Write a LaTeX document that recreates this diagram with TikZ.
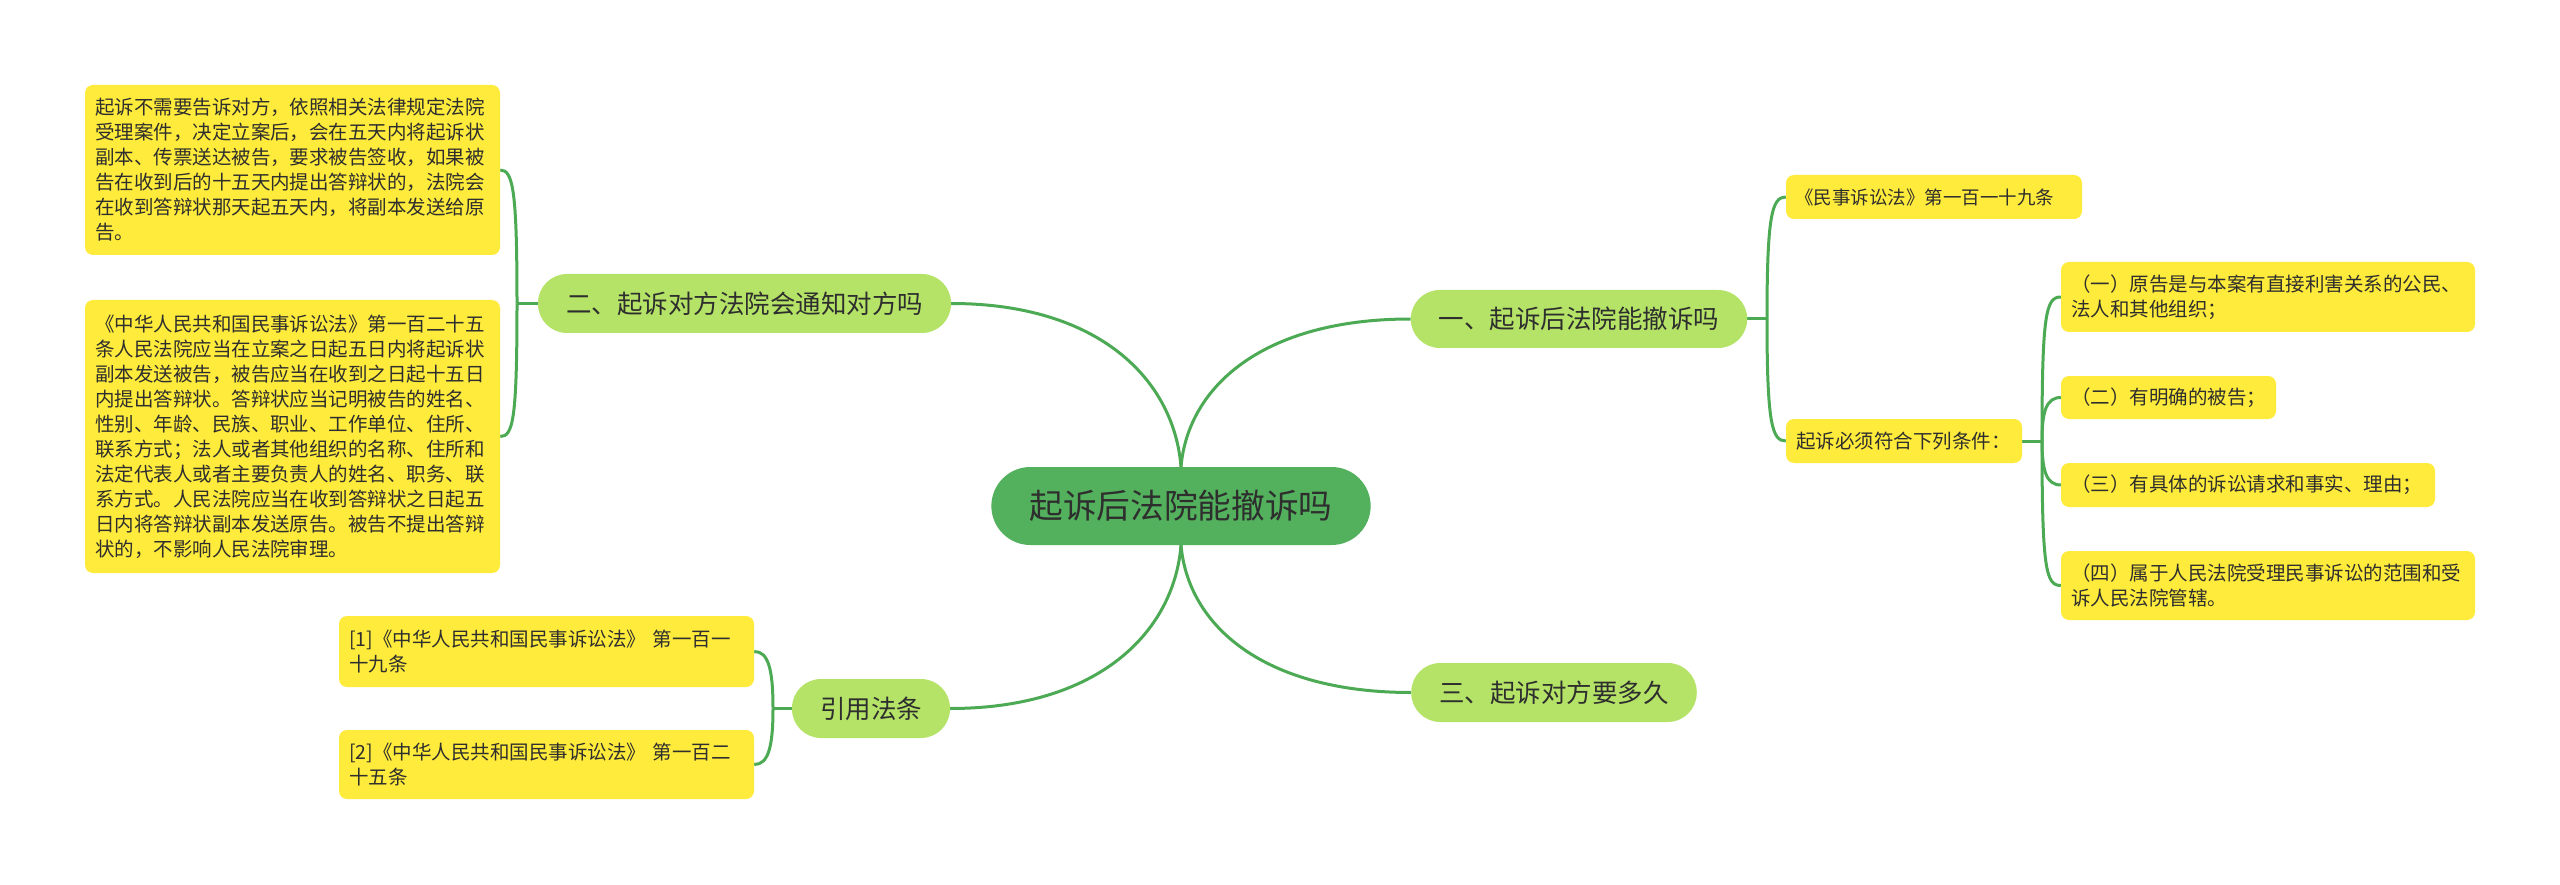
\documentclass[tikz,border=0pt]{standalone}
\usepackage{fontspec}
\setmainfont{Noto Sans CJK SC}
\usetikzlibrary{backgrounds}
\definecolor{yel}{HTML}{FFEB3B}
\definecolor{lgreen}{HTML}{B4E367}
\definecolor{dgreen}{HTML}{53B05C}
\definecolor{lineg}{HTML}{4CAA54}
\definecolor{txt}{HTML}{2E2E2E}
\begin{document}
\begin{tikzpicture}[x=1pt,y=-1pt,
  conn/.style={draw=lineg, line width=3pt},
  leaf/.style={fill=yel, rounded corners=8pt, text=txt, font=\fontsize{19.5}{25}\selectfont, align=left, inner xsep=10pt, inner ysep=0pt},
  branch/.style={fill=lgreen, rounded corners=29pt, text=txt, font=\fontsize{25.5}{30}\selectfont, inner xsep=28pt, inner ysep=0pt, minimum height=59pt},
  rootbox/.style={fill=dgreen, rounded corners=39pt, text=txt, font=\fontsize{33.7}{38}\selectfont, inner xsep=38pt, inner ysep=0pt, minimum height=78pt}]
\useasboundingbox (0,0) rectangle (2560,885);

% root and branches
\node[rootbox] (root) at (1181,506) {起诉后法院能撤诉吗};
\node[branch, minimum height=58pt] (b1) at (1579,319) {一、起诉后法院能撤诉吗};
\node[branch] (b2) at (744.5,303.5) {二、起诉对方法院会通知对方吗};
\node[branch] (b3) at (1554,692.5) {三、起诉对方要多久};
\node[branch] (b4) at (871,708.5) {引用法条};

% left leaves
\node[leaf, text width=395pt, minimum height=170pt] (t1) at (292.5,170) {起诉不需要告诉对方，依照相关法律规定法院\\受理案件，决定立案后，会在五天内将起诉状\\副本、传票送达被告，要求被告签收，如果被\\告在收到后的十五天内提出答辩状的，法院会\\在收到答辩状那天起五天内，将副本发送给原\\告。};
\node[leaf, text width=395pt, minimum height=273pt] (t2) at (292.5,436.5) {《中华人民共和国民事诉讼法》第一百二十五\\条人民法院应当在立案之日起五日内将起诉状\\副本发送被告，被告应当在收到之日起十五日\\内提出答辩状。答辩状应当记明被告的姓名、\\性别、年龄、民族、职业、工作单位、住所、\\联系方式；法人或者其他组织的名称、住所和\\法定代表人或者主要负责人的姓名、职务、联\\系方式。人民法院应当在收到答辩状之日起五\\日内将答辩状副本发送原告。被告不提出答辩\\状的，不影响人民法院审理。};
\node[leaf, text width=395pt, minimum height=71pt] (r1) at (546.5,651.5) {[1]《中华人民共和国民事诉讼法》 第一百一\\十九条};
\node[leaf, text width=395pt, minimum height=69pt] (r2) at (546.5,764.5) {[2]《中华人民共和国民事诉讼法》 第一百二\\十五条};

% right leaves
\node[leaf, text width=278pt, inner xsep=9pt, minimum height=44pt, font=\fontsize{18.5}{25}\selectfont] (law) at (1934,197) {《民事诉讼法》第一百一十九条};
\node[leaf, text width=216pt, minimum height=44pt] (cond) at (1904,441) {起诉必须符合下列条件：};
\node[leaf, text width=394pt, minimum height=70pt] (c1) at (2268,297) {（一）原告是与本案有直接利害关系的公民、\\法人和其他组织；};
\node[leaf, text width=195pt, minimum height=43pt] (c2) at (2168.5,397.5) {（二）有明确的被告；};
\node[leaf, text width=354pt, minimum height=44pt] (c3) at (2248,485) {（三）有具体的诉讼请求和事实、理由；};
\node[leaf, text width=394pt, minimum height=69pt] (c4) at (2268,585.5) {（四）属于人民法院受理民事诉讼的范围和受\\诉人民法院管辖。};

\coordinate (j1) at (1767,319);
\coordinate (j2) at (517,303.5);
\coordinate (j3) at (2042,441);
\coordinate (j4) at (773,708.5);

\begin{pgfonlayer}{background}
\fill[white] (0,0) rectangle (2560,885);
% main curves
\draw[conn] (root.north) .. controls +(-7,-87) and +(148,0) .. (b2.east);
\draw[conn] (root.north) .. controls +(7,-80) and +(-148,0) .. (b1.west);
\draw[conn] (root.south) .. controls +(-7,87) and +(148,0) .. (b4.east);
\draw[conn] (root.south) .. controls +(7,80) and +(-148,0) .. (b3.west);
% branch two
\draw[conn] (b2.west) -- (j2);
\draw[conn] (j2) .. controls (517,190) and (513,170) .. (t1.east);
\draw[conn] (j2) .. controls (517,420) and (513,436.5) .. (t2.east);
% references
\draw[conn] (b4.west) -- (j4);
\draw[conn] (j4) .. controls (773,668) and (768,651.5) .. (r1.east);
\draw[conn] (j4) .. controls (773,748) and (768,764.5) .. (r2.east);
% branch one
\draw[conn] (b1.east) -- (j1);
\draw[conn] (j1) .. controls (1767,215) and (1772,197) .. (law.west);
\draw[conn] (j1) .. controls (1767,424) and (1772,441) .. (cond.west);
% conditions
\draw[conn] (cond.east) -- (j3);
\draw[conn] (j3) .. controls (2042,313) and (2046,297) .. (c1.west);
\draw[conn] (j3) .. controls (2042,412) and (2046,397.5) .. (c2.west);
\draw[conn] (j3) .. controls (2042,470) and (2046,485) .. (c3.west);
\draw[conn] (j3) .. controls (2042,570) and (2046,585.5) .. (c4.west);
\end{pgfonlayer}
\end{tikzpicture}
\end{document}
